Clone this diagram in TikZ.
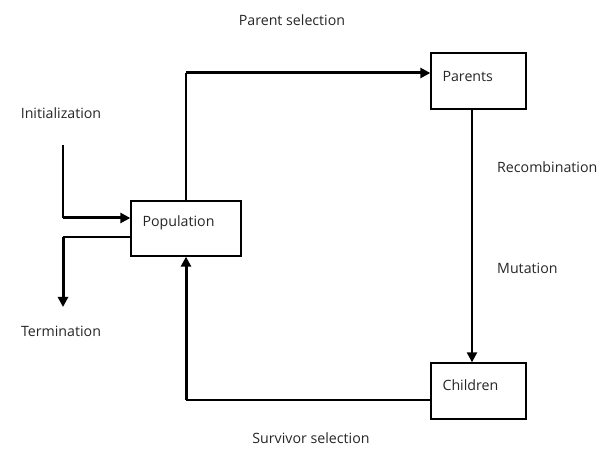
\documentclass[tikz,border=0pt]{standalone}
\usepackage{fontspec}
\setmainfont{Open Sans}
\usetikzlibrary{arrows.meta,calc}

\begin{document}
\begin{tikzpicture}[x=1pt,y=-1pt,
  gabox/.style={draw,line width=1.3pt,minimum width=95pt,minimum height=56pt,inner sep=0pt},
  gatext/.style={font=\fontsize{14.2}{17}\selectfont,inner sep=0pt,text=black!85},
  gathin/.style={line width=1.3pt},
  gaarr/.style={-{Triangle[length=10pt,width=10pt]},line width=3pt}
]
  \useasboundingbox (0,0) rectangle (606,449);
  % Boxes
  \node[gabox,minimum width=110pt,minimum height=55pt] (pop) at (186,228.5) {};
  \node[gabox] (par) at (478.5,81) {};
  \node[gabox] (chi) at (478.5,391) {};
  % Box texts
  \node[gatext,anchor=west] (poptxt) at ($(pop.west)+(12,-5.5)$) {Population};
  \node[gatext,anchor=west] (partxt) at ($(par.west)+(12,-4)$) {Parents};
  \node[gatext,anchor=west] (chitxt) at ($(chi.west)+(12,-6)$) {Children};
  % Operator labels
  \node[gatext] (init) at (61,113) {Initialization};
  \node[gatext] (term) at (61,331) {Termination};
  \node[gatext] (psel) at (292,20) {Parent selection};
  \node[gatext,anchor=west] (recomb) at (497,167) {Recombination};
  \node[gatext,anchor=west] (mut) at (497,268) {Mutation};
  \node[gatext] (ssel) at (311,438) {Survivor selection};
  % Bends
  \coordinate (initTop) at (63,145);
  \coordinate (initBend) at (63,218);
  \coordinate (termBend) at (63,237);
  \coordinate (termEnd) at (63,307);
  \coordinate (popUp) at (186,73);
  \coordinate (popDown) at (186,400);
  \coordinate (varX) at (472,0);
  % Initialization
  \draw[gathin] (initTop) -- (initBend);
  \draw[gaarr] (initBend) -- (initBend -| pop.west);
  % Termination
  \draw[gathin] (termBend -| pop.west) -- (termBend);
  \draw[gaarr] (termBend) -- (termEnd);
  % Parent selection
  \draw[gathin] (pop.north) -- (popUp);
  \draw[gaarr] (popUp) -- (popUp -| par.west);
  % Recombination and mutation
  \draw[gaarr,line width=2.2pt] (varX |- par.south) -- (varX |- chi.north);
  % Survivor selection
  \draw[gathin] (popDown -| chi.west) -- (popDown);
  \draw[gaarr] (popDown) -- (pop.south);
\end{tikzpicture}
\end{document}
